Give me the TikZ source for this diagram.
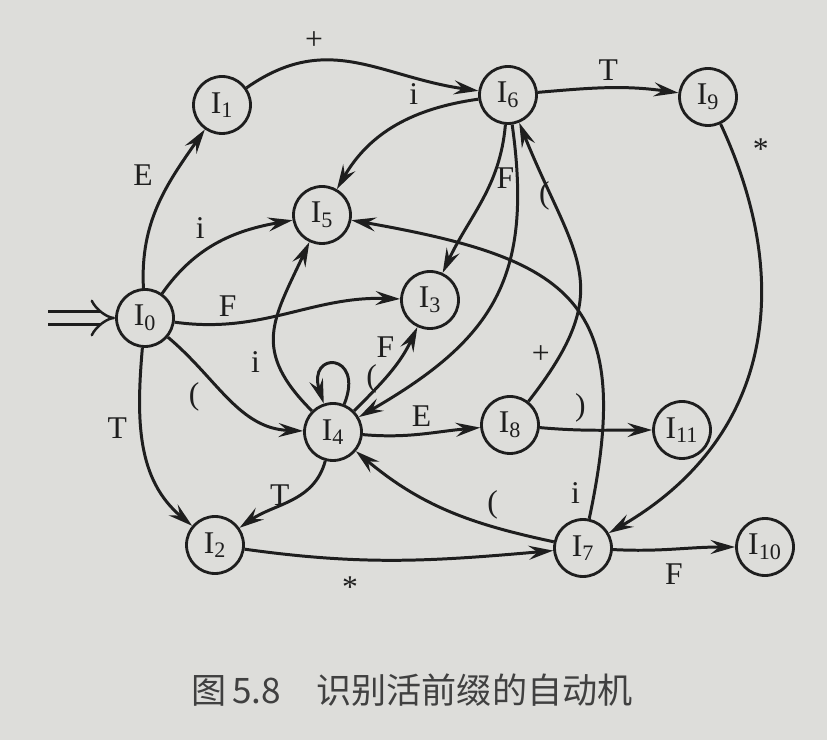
\documentclass[tikz,border=0pt]{standalone}
\usepackage{fontspec}
\setmainfont{Liberation Serif}
\newfontfamily\cjk{Noto Sans CJK SC}
\usetikzlibrary{arrows.meta}

\definecolor{paper}{RGB}{221,221,218}
\definecolor{ink}{RGB}{30,30,30}
\newcommand{\st}[1]{I\textsubscript{#1}}

\begin{document}
\begin{tikzpicture}[x=0.02cm,y=0.02cm,
    state/.style={draw=ink,circle,line width=1.6pt,minimum size=1.14cm,
        inner sep=0pt,text=ink,font=\fontsize{18}{20}\selectfont},
    tr/.style={draw=ink,line width=1.7pt,
        -{Stealth[length=14pt,width=8pt,inset=5pt]}},
    lab/.style={text=ink,font=\fontsize{18}{20}\selectfont}]
  % page
  \fill[paper] (0,0) rectangle (827,740);
  \useasboundingbox (0,0) rectangle (827,740);

  % states
  \node[state] (I0) at (145,422) {\st{0}};
  \node[state] (I1) at (222,635) {\st{1}};
  \node[state] (I2) at (215,195) {\st{2}};
  \node[state] (I3) at (430,440) {\st{3}};
  \node[state] (I4) at (333,308) {\st{4}};
  \node[state] (I5) at (322,525) {\st{5}};
  \node[state] (I6) at (508,645) {\st{6}};
  \node[state] (I7) at (583,192) {\st{7}};
  \node[state] (I8) at (510,315) {\st{8}};
  \node[state] (I9) at (708,643) {\st{9}};
  \node[state] (I10) at (765,193) {\st{10}};
  \node[state] (I11) at (682,310) {\st{11}};

  % start
  \coordinate (start) at (48,422);
  \draw[ink,line width=1.4pt,double=paper,double distance=6pt,
      -{Implies[length=9pt,width=16pt]}] (start) -- (I0);

  % from I0
  \draw[tr] (I0) to[out=93,in=235] node[lab,pos=0.7,left=8pt] {E} (I1);
  \draw[tr] (I0) to[out=55,in=190] node[lab,pos=0.45,above left] {i} (I5);
  \draw[tr] (I0) to[out=-8,in=178] node[lab,pos=0.22,above] {F} (I3);
  \draw[tr] (I0) to[out=-40,in=178] node[lab,pos=0.3,below left] {(} (I4);
  \draw[tr] (I0) to[out=-95,in=140] node[lab,pos=0.4,left=4pt] {T} (I2);

  % from I1, I6, I9
  \draw[tr] (I1) to[out=35,in=172,looseness=1.1]
      node[lab,pos=0.3,above=2pt] {+} (I6);
  \draw[tr] (I6) to[out=188,in=60] node[lab,pos=0.3,above left] {i} (I5);
  \draw[tr] (I6) to[out=5,in=172] node[lab,pos=0.5,above] {T} (I9);
  \draw[tr] (I6) to[out=-95,in=65] node[lab,pos=0.33,right=-2pt] {F} (I3);
  \draw[tr] (I6) to[out=-82,in=30,looseness=1.2]
      node[lab,pos=0.17,right=8pt] {(} (I4);
  \draw[tr] (I9) to[out=-65,in=30,looseness=1.1]
      node[lab,pos=0.05,right=8pt] {*} (I7);

  % from I4
  \draw[tr] (I4) to[out=135,in=-115,looseness=1.3]
      node[lab,pos=0.3,left=6pt] {i} (I5);
  \draw[tr] (I4) to[out=45,in=-115] node[lab,pos=0.8,left=3pt] {F} (I3);
  \draw[tr] (I4) to[loop,out=68,in=108,looseness=7]
      node[lab,pos=0.2,right=6pt] {(} (I4);
  \draw[tr] (I4) to[out=-105,in=35] node[lab,pos=0.4,left=2pt] {T} (I2);
  \draw[tr] (I4) to[out=-5,in=185] node[lab,pos=0.5,above] {E} (I8);

  % from I8, I2, I7
  \draw[tr] (I8) to[out=52,in=-68,looseness=1.35]
      node[lab,pos=0.15,left=2pt] {+} (I6);
  \draw[tr] (I8) to[out=-5,in=180] node[lab,pos=0.35,above] {)} (I11);
  \draw[tr] (I2) to[out=-8,in=185] node[lab,pos=0.33,below=6pt] {*} (I7);
  \draw[tr] (I7) to[out=-3,in=180] node[lab,pos=0.5,below=4pt] {F} (I10);
  \draw[tr] (I7) to[out=168,in=-40] node[lab,pos=0.27,above] {(} (I4);
  \draw[tr] (I7) to[out=78,in=-10,looseness=1.5]
      node[lab,pos=0.04,left=4pt] {i} (I5);

  % caption
  \node[text=ink!85,font=\cjk\fontsize{20}{24}\selectfont] (caption)
      at (412,50) {图\,5.8\quad 识别活前缀的自动机};
\end{tikzpicture}
\end{document}
